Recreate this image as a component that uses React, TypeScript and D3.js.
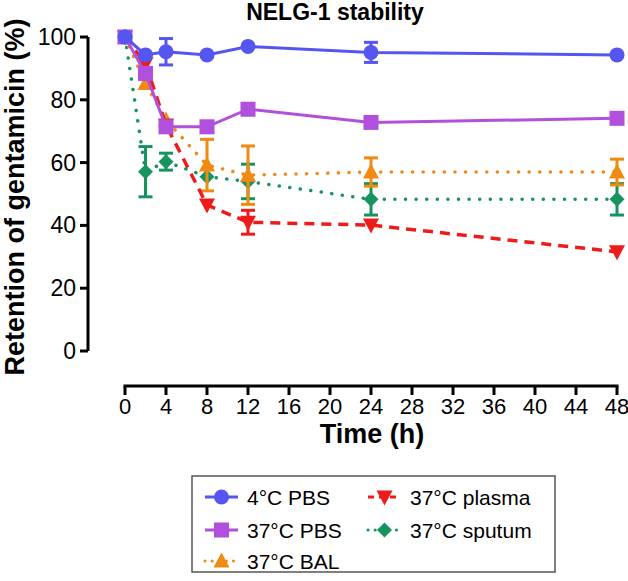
import React from "react";
import * as d3 from "d3";

const times = [0, 2, 4, 8, 12, 24, 48];
const xTicks = [0, 4, 8, 12, 16, 20, 24, 28, 32, 36, 40, 44, 48];
const yTicks = [0, 20, 40, 60, 80, 100];

const pbs4 = [100, 94.3, 95.3, 94.3, 97, 95.1, 94.3];
const pbs4Err = [0, 0, 4.2, 0, 0, 3.2, 0];
const pbs37 = [100, 88.4, 71.4, 71.4, 77, 72.8, 74.1];
const pbs37Err = [0, 0, 0, 0, 0, 0, 0];
const plasma = [100, 91.5, 72, 46.5, 41, 40.1, 31.6];
const plasmaErr = [0, 0, 0, 0, 3.8, 0, 0];
const bal = [100, 85.2, 73.6, 59.2, 56, 57, 57];
const balErr = [0, 0, 0, 8.2, 9.3, 4.5, 4.1];
const sputum = [100, 57.1, 60.3, 55.5, 54, 48.3, 48.3];
const sputumErr = [0, 8, 2.7, 0, 5.5, 5, 5];

type Series = {
  name: string;
  values: number[];
  err: number[];
  color: string;
  marker: "circle" | "square" | "tri-down" | "tri-up" | "diamond";
  dash: string;
  width: number;
  cap: string;
};

const series: Series[] = [
  { name: "37°C sputum", values: sputum, err: sputumErr, color: "#17935f", marker: "diamond", dash: "0.1,10.5", width: 3.5, cap: "round" },
  { name: "37°C BAL", values: bal, err: balErr, color: "#f08a12", marker: "tri-up", dash: "0.1,10.5", width: 3.5, cap: "round" },
  { name: "37°C plasma", values: plasma, err: plasmaErr, color: "#ee1b1b", marker: "tri-down", dash: "10,7", width: 3.5, cap: "butt" },
  { name: "37°C PBS", values: pbs37, err: pbs37Err, color: "#b050dc", marker: "square", dash: "", width: 3, cap: "butt" },
  { name: "4°C PBS", values: pbs4, err: pbs4Err, color: "#5555f0", marker: "circle", dash: "", width: 3, cap: "butt" },
];

const legendOrder = [
  { s: 4, col: 0, row: 0 },
  { s: 2, col: 1, row: 0 },
  { s: 3, col: 0, row: 1 },
  { s: 0, col: 1, row: 1 },
  { s: 1, col: 0, row: 2 },
];

function Marker({ type, cx, cy, color }: { type: string; cx: number; cy: number; color: string }) {
  if (type === "circle") return <circle cx={cx} cy={cy} r={7.5} fill={color} />;
  if (type === "square") return <rect x={cx - 7.5} y={cy - 7.5} width={15} height={15} fill={color} />;
  if (type === "diamond")
    return <path d={`M${cx},${cy - 7.5}L${cx + 7.5},${cy}L${cx},${cy + 7.5}L${cx - 7.5},${cy}Z`} fill={color} />;
  if (type === "tri-up")
    return <path d={`M${cx},${cy - 8.5}L${cx + 8},${cy + 6.5}L${cx - 8},${cy + 6.5}Z`} fill={color} />;
  return <path d={`M${cx},${cy + 8.5}L${cx + 8},${cy - 6.5}L${cx - 8},${cy - 6.5}Z`} fill={color} />;
}

export default function App() {
  const W = 628;
  const H = 581;
  const x = d3.scaleLinear().domain([0, 48]).range([125, 617]);
  const y = d3.scaleLinear().domain([0, 100]).range([351, 37]);
  const line = d3
    .line<number>()
    .x((_, i) => x(times[i]))
    .y((v) => y(v));
  const font = "Liberation Sans, Arial, sans-serif";
  const axisX = 88;
  const axisY = 386;

  const legendRows = [497, 530, 561];
  const legendCols = [205, 368];

  return (
    <svg width={W} height={H} style={{ position: "absolute", left: 0, top: 0 }} fontFamily={font}>
      <rect width={W} height={H} fill="#fff" />
      <text x={335} y={20} textAnchor="middle" fontSize={23} fontWeight="bold">
        NELG-1 stability
      </text>
      {/* Y axis */}
      <line x1={axisX} x2={axisX} y1={y(100)} y2={y(0)} stroke="#000" strokeWidth={3} />
      {yTicks.map((t) => (
        <g key={t}>
          <line x1={axisX - 8} x2={axisX} y1={y(t)} y2={y(t)} stroke="#000" strokeWidth={3} />
          <text x={axisX - 12} y={y(t) + 8} textAnchor="end" fontSize={23}>
            {t}
          </text>
        </g>
      ))}
      <text
        transform={`translate(24,197) rotate(-90)`}
        textAnchor="middle"
        fontSize={27}
        fontWeight="bold"
      >
        Retention of gentamicin (%)
      </text>
      {/* X axis */}
      <line x1={x(0) - 1.5} x2={x(48) + 1.5} y1={axisY} y2={axisY} stroke="#000" strokeWidth={3} />
      {xTicks.map((t) => (
        <g key={t}>
          <line x1={x(t)} x2={x(t)} y1={axisY} y2={axisY + 9} stroke="#000" strokeWidth={3} />
          <text x={x(t)} y={axisY + 28} textAnchor="middle" fontSize={22}>
            {t}
          </text>
        </g>
      ))}
      <text x={372} y={443} textAnchor="middle" fontSize={27} fontWeight="bold">
        Time (h)
      </text>
      {/* Series */}
      {series.map((s) => (
        <g key={s.name}>
          <path
            d={line(s.values) || ""}
            fill="none"
            stroke={s.color}
            strokeWidth={s.width}
            strokeDasharray={s.dash || undefined}
            strokeLinecap={s.cap as any}
          />
          {s.values.map((v, i) =>
            s.err[i] > 0 ? (
              <g key={"e" + i} stroke={s.color} strokeWidth={3}>
                <line x1={x(times[i])} x2={x(times[i])} y1={y(v + s.err[i])} y2={y(v - s.err[i])} />
                <line x1={x(times[i]) - 7} x2={x(times[i]) + 7} y1={y(v + s.err[i])} y2={y(v + s.err[i])} />
                <line x1={x(times[i]) - 7} x2={x(times[i]) + 7} y1={y(v - s.err[i])} y2={y(v - s.err[i])} />
              </g>
            ) : null
          )}
          {s.values.map((v, i) => (
            <Marker key={"m" + i} type={s.marker} cx={x(times[i])} cy={y(v)} color={s.color} />
          ))}
        </g>
      ))}
      {/* Legend */}
      <rect x={192} y={476} width={363} height={96} fill="#fff" stroke="#555" strokeWidth={1.5} />
      {legendOrder.map((l) => {
        const s = series[l.s];
        const lx = legendCols[l.col];
        const ly = legendRows[l.row];
        return (
          <g key={s.name}>
            <line
              x1={lx}
              x2={lx + 33}
              y1={ly}
              y2={ly}
              stroke={s.color}
              strokeWidth={3}
              strokeDasharray={s.marker === "tri-down" ? "6,5" : s.dash ? "0.1,7" : undefined}
              strokeLinecap={s.cap as any}
            />
            <Marker type={s.marker} cx={lx + 16.5} cy={ly} color={s.color} />
            <text x={lx + 42} y={ly + 8} fontSize={21}>
              {s.name}
            </text>
          </g>
        );
      })}
    </svg>
  );
}
